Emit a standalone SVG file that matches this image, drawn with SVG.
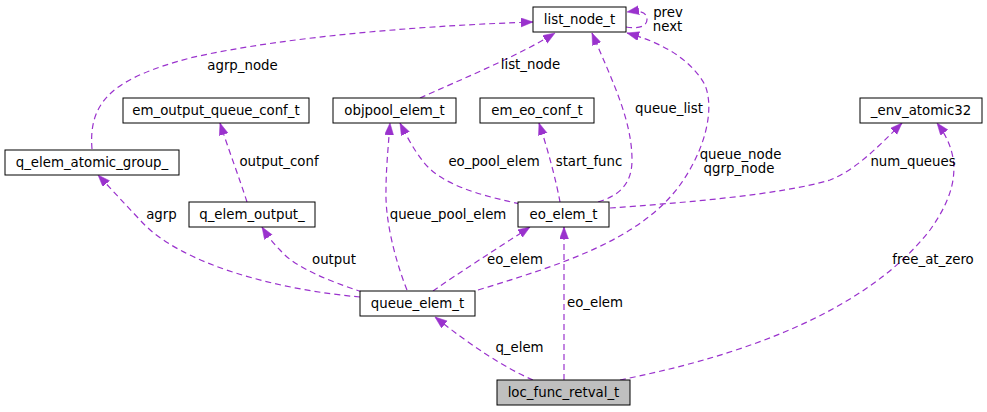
<svg xmlns="http://www.w3.org/2000/svg" width="987" height="412" viewBox="0 0 987 412">
<style>
text{font-family:"DejaVu Sans","Liberation Sans",sans-serif;font-size:13.33px;fill:#000}
.n text{text-anchor:middle}
.n rect{fill:#fff;stroke:#000;stroke-width:1}
.e path{fill:none;stroke:#9a32cd;stroke-width:1.2;stroke-dasharray:6,4;marker-end:url(#a)}
.l{text-anchor:middle}
</style>
<defs>
<marker id="a" markerWidth="13" markerHeight="10" refX="12" refY="4.5" orient="auto" markerUnits="userSpaceOnUse">
<path d="M0,0 L12,4.5 L0,9 z" fill="#9a32cd" stroke="#9a32cd" stroke-width="0.5"/>
</marker>
</defs>
<rect width="987" height="412" fill="#fff"/>
<g id="connectors" class="e">
<path d="M626,27 C637,29 647,27 647,19.5 C647,12 640,10 627,12"/>
<path d="M92,149 C88,100 115,78 190,58 C290,35 440,25 533,22"/>
<path d="M420,98 C460,80 520,55 555,33"/>
<path d="M598,202 C618,196 632,185 632,160 C632,120 612,80 592,33"/>
<path d="M478,290 C560,265 640,240 680,185 C705,150 715,110 705,85 C690,58 660,42 627,33"/>
<path d="M247,202 C240,180 228,148 220,123"/>
<path d="M360,297 C280,290 180,265 140,220 C125,204 112,190 98,175"/>
<path d="M362,292 C330,281 295,268 280,250 C272,242 267,235 262,227"/>
<path d="M407,290 C395,260 385,220 386,190 C386,170 388,150 390,123"/>
<path d="M520,204 C480,195 440,185 422,160 C414,150 406,135 400,123"/>
<path d="M560,202 C556,180 548,150 539,123"/>
<path d="M610,208 C680,203 780,195 830,180 C855,170 875,150 902,123"/>
<path d="M433,291 C460,272 495,250 530,227"/>
<path d="M564,380 L564,227"/>
<path d="M533,380 C505,368 470,345 435,317"/>
<path d="M620,380 C720,360 860,320 930,230 C955,195 965,160 937,123"/>
</g>
<g id="labels">
<text class="l" x="668" y="16.5">prev</text>
<text class="l" x="667.5" y="31">next</text>
<text class="l" x="242.5" y="69.5">agrp_node</text>
<text class="l" x="530.5" y="69">list_node</text>
<text class="l" x="669" y="113">queue_list</text>
<text class="l" x="494" y="166">eo_pool_elem</text>
<text class="l" x="589" y="166">start_func</text>
<text class="l" x="279" y="166">output_conf</text>
<text class="l" x="913" y="166">num_queues</text>
<text class="l" x="740.5" y="158.5">queue_node</text>
<text class="l" x="739" y="172.5">qgrp_node</text>
<text class="l" x="161.5" y="218.5">agrp</text>
<text class="l" x="448" y="218.5">queue_pool_elem</text>
<text class="l" x="334" y="263.5">output</text>
<text class="l" x="515" y="263.5">eo_elem</text>
<text class="l" x="933" y="263.5">free_at_zero</text>
<text class="l" x="595" y="307">eo_elem</text>
<text class="l" x="519.5" y="352">q_elem</text>
</g>
<g id="list_node_t" class="n"><rect x="533" y="7" width="93" height="25"/><text x="579.5" y="24">list_node_t</text></g>
<g id="objpool_elem_t" class="n"><rect x="333" y="98" width="123" height="25"/><text x="394.5" y="115">objpool_elem_t</text></g>
<g id="em_eo_conf_t" class="n"><rect x="480" y="98" width="114" height="25"/><text x="537" y="115">em_eo_conf_t</text></g>
<g id="em_output_queue_conf_t" class="n"><rect x="123" y="98" width="186" height="25"/><text x="216" y="115">em_output_queue_conf_t</text></g>
<g id="_env_atomic32" class="n"><rect x="860" y="98" width="122" height="25"/><text x="921" y="115">_env_atomic32</text></g>
<g id="q_elem_atomic_group_" class="n"><rect x="5" y="150" width="174" height="25"/><text x="92" y="167">q_elem_atomic_group_</text></g>
<g id="q_elem_output_" class="n"><rect x="189" y="202" width="126" height="25"/><text x="252" y="219">q_elem_output_</text></g>
<g id="eo_elem_t" class="n"><rect x="518" y="202" width="91" height="25"/><text x="563.5" y="219">eo_elem_t</text></g>
<g id="queue_elem_t" class="n"><rect x="360" y="291" width="115" height="25"/><text x="417.5" y="308">queue_elem_t</text></g>
<g id="loc_func_retval_t" class="n"><rect x="497" y="380" width="133" height="25" style="fill:#bfbfbf"/><text x="563.5" y="397">loc_func_retval_t</text></g>
</svg>
